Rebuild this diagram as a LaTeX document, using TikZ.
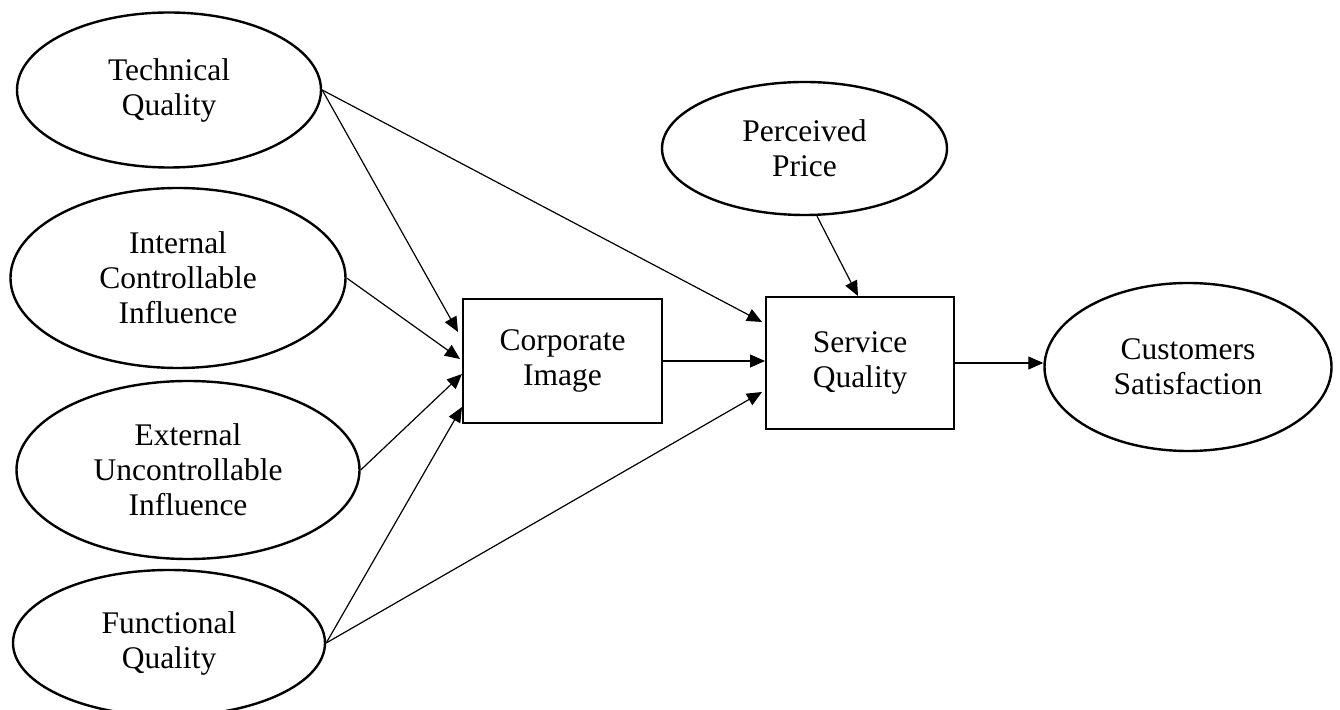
\documentclass[tikz,border=0pt]{standalone}
\usepackage{fontspec}
\setmainfont{Liberation Serif}
\usetikzlibrary{shapes.geometric,arrows.meta}
\begin{document}
\begin{tikzpicture}[x=1pt,y=1pt,
  lat/.style={ellipse,draw,line width=2.4pt,inner sep=0pt,align=center,font=\fontsize{31.5}{35}\selectfont},
  box/.style={rectangle,draw,line width=2pt,inner sep=0pt,align=center,font=\fontsize{31.5}{35}\selectfont},
  conn/.style={line width=1.2pt,-{Triangle[length=15pt,width=13pt]}}]
\useasboundingbox (0,0) rectangle (1340,709);
\node[lat,minimum width=304pt,minimum height=155pt] (tq) at (169,619) {Technical\\Quality};
\node[lat,minimum width=335pt,minimum height=180pt] (ic) at (178,431) {Internal\\Controllable\\Influence};
\node[lat,minimum width=343pt,minimum height=178pt] (eu) at (188,239) {External\\Uncontrollable\\Influence};
\node[lat,minimum width=312pt,minimum height=146pt] (fq) at (169,66) {Functional\\Quality};
\node[box,minimum width=199pt,minimum height=124pt] (ci) at (562.5,348) {Corporate\\Image};
\node[box,minimum width=188pt,minimum height=132pt] (sq) at (860,346) {Service\\Quality};
\node[lat,minimum width=285pt,minimum height=133pt] (pp) at (804.5,560.5) {Perceived\\Price};
\node[lat,minimum width=287pt,minimum height=168pt] (cs) at (1188,342) {Customers\\Satisfaction};
\draw[conn] (tq.east) -- ([yshift=29pt,xshift=-4pt]ci.west);
\draw[conn] (tq.east) -- ([yshift=41pt,xshift=-3pt]sq.west);
\draw[conn] (ic.east) -- ([yshift=2pt,xshift=-2pt]ci.west);
\draw[conn] (eu.east) -- ([yshift=-13pt]ci.west);
\draw[conn] (fq.east) -- ([yshift=-46pt]ci.west);
\draw[conn] (fq.east) -- ([yshift=-29pt,xshift=-3pt]sq.west);
\draw[conn] (ci.east) -- (ci.east -| sq.west);
\draw[conn] ([xshift=12.5pt]pp.south) -- ([xshift=-2pt]sq.north);
\draw[conn] (sq.east) -- (sq.east -| cs.west);
\end{tikzpicture}
\end{document}
